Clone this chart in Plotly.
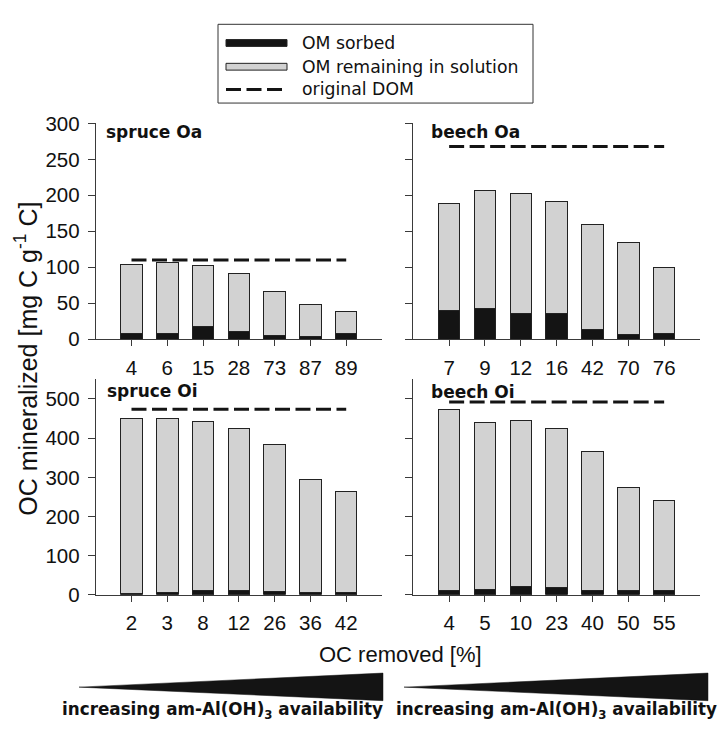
import plotly.graph_objects as go

W, H = 719, 733

# ---------------- data ----------------
spruce_oa_labels = ["4", "6", "15", "28", "73", "87", "89"]
spruce_oa_sorbed = [8, 8, 18, 11, 5, 3, 8]
spruce_oa_remaining = [96, 98, 85, 80, 61, 45, 30]
spruce_oa_dom = 110

beech_oa_labels = ["7", "9", "12", "16", "42", "70", "76"]
beech_oa_sorbed = [40, 43, 36, 35, 14, 7, 8]
beech_oa_remaining = [149, 164, 166, 156, 146, 127, 91]
beech_oa_dom = 268

spruce_oi_labels = ["2", "3", "8", "12", "26", "36", "42"]
spruce_oi_sorbed = [3, 5, 11, 11, 8, 5, 7]
spruce_oi_remaining = [448, 445, 432, 413, 376, 290, 257]
spruce_oi_dom = 474

beech_oi_labels = ["4", "5", "10", "23", "40", "50", "55"]
beech_oi_sorbed = [12, 14, 21, 19, 12, 12, 11]
beech_oi_remaining = [461, 426, 425, 405, 353, 261, 231]
beech_oi_dom = 492

panel_titles = ["spruce Oa", "beech Oa", "spruce Oi", "beech Oi"]
legend_names = ["OM sorbed", "OM remaining in solution", "original DOM"]

# ---------------- helpers ----------------
def px(x):
    return x / W

def py(y):
    return 1 - y / H

BLACK = "#141414"
GRAY = "#d2d2d2"
EDGE = "#222222"
AXIS = "#3a3a3a"
FONT = "DejaVu Sans, Liberation Sans, Arial"
SANS = "Liberation Sans, Arial, DejaVu Sans"

panels = [
    (spruce_oa_labels, spruce_oa_sorbed, spruce_oa_remaining, spruce_oa_dom, "x", "y"),
    (beech_oa_labels, beech_oa_sorbed, beech_oa_remaining, beech_oa_dom, "x2", "y2"),
    (spruce_oi_labels, spruce_oi_sorbed, spruce_oi_remaining, spruce_oi_dom, "x3", "y3"),
    (beech_oi_labels, beech_oi_sorbed, beech_oi_remaining, beech_oi_dom, "x4", "y4"),
]

fig = go.Figure()
for labels, sorbed, remaining, dom, xa, ya in panels:
    fig.add_trace(go.Bar(x=labels, y=sorbed, width=0.6, xaxis=xa, yaxis=ya,
                         marker=dict(color=BLACK, line=dict(color=EDGE, width=1)),
                         showlegend=False, name=legend_names[0]))
    fig.add_trace(go.Bar(x=labels, y=remaining, width=0.6, xaxis=xa, yaxis=ya,
                         marker=dict(color=GRAY, line=dict(color=EDGE, width=1)),
                         showlegend=False, name=legend_names[1]))
    fig.add_trace(go.Scatter(x=[labels[0], labels[-1]], y=[dom, dom], xaxis=xa, yaxis=ya,
                             mode="lines", line=dict(color=BLACK, width=3, dash="15px,5.5px"),
                             showlegend=False, name=legend_names[2]))

xl = [px(95.7), px(382)]
xr = [px(413.3), px(700)]
yt = [py(337.7), py(115)]
yb = [py(601.7), py(379.3)]

common_x = dict(type="category", range=[-1, 7], showline=True, linecolor=AXIS, linewidth=1,
                ticks="outside", ticklen=6, tickcolor=AXIS, showgrid=False, zeroline=False,
                ticklabelstandoff=4,
                tickfont=dict(family=SANS, size=20.5, color="#111"), fixedrange=True)
common_y = dict(showline=True, linecolor=AXIS, linewidth=1, ticks="outside", ticklen=7,
                tickcolor=AXIS, showgrid=False, zeroline=False, ticklabelstandoff=4,
                tickfont=dict(family=SANS, size=20.5, color="#111"), fixedrange=True)

fig.update_layout(
    width=W, height=H, margin=dict(l=0, r=0, t=0, b=0),
    paper_bgcolor="white", plot_bgcolor="white", barmode="stack",
    showlegend=False,
    xaxis=dict(domain=xl, anchor="y", **common_x),
    xaxis2=dict(domain=xr, anchor="y2", **common_x),
    xaxis3=dict(domain=xl, anchor="y3", **common_x),
    xaxis4=dict(domain=xr, anchor="y4", **common_x),
    yaxis=dict(domain=yt, anchor="x", range=[0, 300], tickvals=[0, 50, 100, 150, 200, 250, 300], **common_y),
    yaxis2=dict(domain=yt, anchor="x2", range=[0, 300], tickvals=[0, 50, 100, 150, 200, 250, 300],
                showticklabels=False, **common_y),
    yaxis3=dict(domain=yb, anchor="x3", range=[0, 550], tickvals=[0, 100, 200, 300, 400, 500], **common_y),
    yaxis4=dict(domain=yb, anchor="x4", range=[0, 550], tickvals=[0, 100, 200, 300, 400, 500],
                showticklabels=False, **common_y),
)

annotations = []
# panel titles
title_pos = [(104, 124), (429, 124), (105, 391), (429, 392)]
for t, (x, y) in zip(panel_titles, title_pos):
    annotations.append(dict(text="<b>%s</b>" % t, x=px(x), y=py(y), xref="paper", yref="paper",
                            xanchor="left", yanchor="middle", showarrow=False,
                            font=dict(family=FONT, size=17, color="#111")))

# axis titles
annotations.append(dict(text="OC mineralized [mg C g<sup>-1</sup> C]", x=px(26), y=py(358),
                        xref="paper", yref="paper", textangle=-90, showarrow=False,
                        xanchor="center", yanchor="middle",
                        font=dict(family=SANS, size=25, color="#111")))
annotations.append(dict(text="OC removed [%]", x=px(400), y=py(663), xref="paper", yref="paper",
                        showarrow=False, xanchor="center", yanchor="middle",
                        font=dict(family=SANS, size=22, color="#111")))

# gradient captions
for cx in (222, 556):
    annotations.append(dict(text="<b>increasing am-Al(OH)<sub>3</sub> availability</b>",
                            x=px(cx), y=py(721), xref="paper", yref="paper", showarrow=False,
                            xanchor="center", yanchor="middle",
                            font=dict(family=FONT, size=16.8, color="#111")))

# legend texts
leg_rows = [32, 56.5, 80]
for name, ry in zip(legend_names, leg_rows):
    annotations.append(dict(text=name, x=px(300), y=py(ry), xref="paper", yref="paper",
                            showarrow=False, xanchor="left", yanchor="middle",
                            font=dict(family=FONT, size=17.3, color="#111")))

shapes = []
# legend box
shapes.append(dict(type="rect", xref="paper", yref="paper", x0=px(218), x1=px(533),
                   y0=py(94), y1=py(12.7), line=dict(color="#333", width=1), fillcolor="white"))
# legend symbols
shapes.append(dict(type="rect", xref="paper", yref="paper", x0=px(226), x1=px(287),
                   y0=py(leg_rows[0] + 3.5), y1=py(leg_rows[0] - 3.5),
                   line=dict(color=EDGE, width=1), fillcolor=BLACK))
shapes.append(dict(type="rect", xref="paper", yref="paper", x0=px(226), x1=px(287),
                   y0=py(leg_rows[1] + 3.5), y1=py(leg_rows[1] - 3.5),
                   line=dict(color=EDGE, width=1), fillcolor=GRAY))
shapes.append(dict(type="line", xref="paper", yref="paper", x0=px(226), x1=px(287),
                   y0=py(leg_rows[2]), y1=py(leg_rows[2]),
                   line=dict(color=BLACK, width=3, dash="15px,5.5px")))

# wedges
def wedge(x_tip, x_end, y_mid, y_top, y_bot):
    return dict(type="path", xref="paper", yref="paper",
                path="M %f %f L %f %f L %f %f Z" % (px(x_tip), py(y_mid), px(x_end), py(y_top),
                                                    px(x_end), py(y_bot)),
                fillcolor=BLACK, line=dict(color=BLACK, width=0.5))

shapes.append(wedge(79, 383, 697, 682.5, 711))
shapes.append(wedge(404, 708, 697, 682.5, 711))

fig.update_layout(annotations=annotations, shapes=shapes)

fig.write_html("out.html")
